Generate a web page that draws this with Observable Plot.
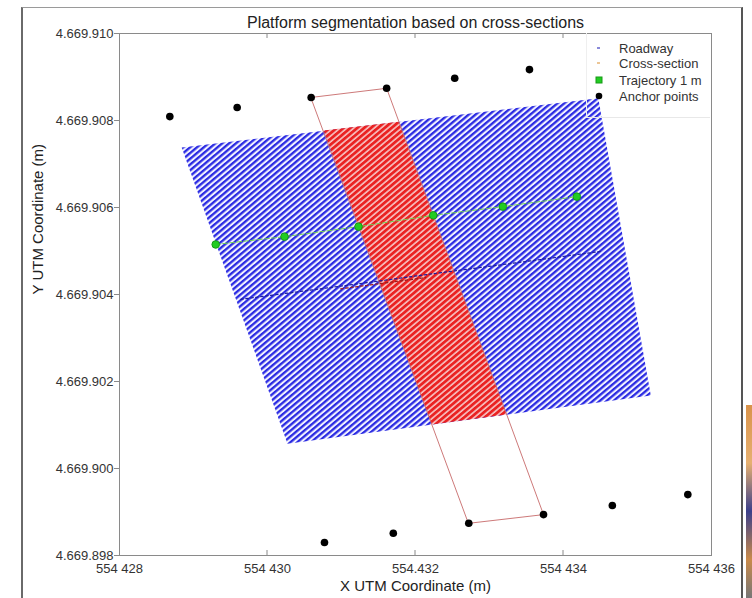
<!DOCTYPE html>
<html><head><meta charset="utf-8">
<script src="https://cdn.jsdelivr.net/npm/d3@7"></script>
<script src="https://cdn.jsdelivr.net/npm/@observablehq/plot@0.6"></script>
<style>
body{margin:0;background:#fff;font-family:"Liberation Sans",Arial,sans-serif;}
#wrap{position:relative;width:752px;height:598px;overflow:hidden;background:#fff;}
#border{position:absolute;left:21px;top:7px;width:722px;height:600px;border-left:2px solid #6a6a6a;border-top:1px solid #9a9a9a;border-right:2px solid #555;box-sizing:border-box;}
#frag{position:absolute;left:746px;top:405px;width:6px;height:193px;background:linear-gradient(180deg,#d9934a 0%,#e6b070 30%,#3b3f8a 55%,#c98a4a 80%,#777 100%);}
#legend{position:absolute;left:586px;top:33px;width:124px;height:85px;border-left:1px solid #efefef;border-bottom:1px solid #e8e8e8;box-sizing:border-box;background:transparent;}
</style></head><body><div id="wrap"><div id="border"></div><div id="frag"></div></div>
<script>
// ---- axis ticks ----
const xTicks = [554428, 554430, 554432, 554434, 554436];
const xTickLabels = ["554 428", "554 430", "554.432", "554 434", "554 436"];
const yTicks = [4669898, 4669900, 4669902, 4669904, 4669906, 4669908, 4669910];
const yTickLabels = ["4.669.898", "4.669.900", "4.669.902", "4.669.904", "4.669.906", "4.669.908", "4.669.910"];

// ---- texts ----
const titleText = "Platform segmentation based on cross-sections";
const xLabel = "X UTM Coordinate (m)";
const yLabel = "Y UTM Coordinate (m)";
const legendNames = ["Roadway", "Cross-section", "Trajectory 1 m", "Anchor points"];

// ---- roadway platform (hatched blue) corners ----
const roadwayX = [554428.84, 554434.47, 554435.18, 554430.27];
const roadwayY = [4669907.38, 4669908.51, 4669901.68, 4669900.57];

// ---- cross-section part of the platform (hatched red) ----
const crossX = [554430.76, 554431.77, 554433.23, 554432.22];
const crossY = [4669907.77, 4669907.97, 4669901.24, 4669901.01];

// ---- cross-section outline (through anchor points) ----
const sectionX = [554430.59, 554431.61, 554433.73, 554432.72];
const sectionY = [4669908.53, 4669908.74, 4669898.94, 4669898.74];

// ---- roadway axis (dotted) ----
const centerX = [554429.64, 554430.85, 554432.07, 554433.28, 554434.50];
const centerY = [4669903.89, 4669904.16, 4669904.44, 4669904.71, 4669904.99];
const crossCenterX = [554430.99, 554432.14];
const crossCenterY = [4669904.13, 4669904.39];

// ---- trajectory 1 m ----
const trajX = [554429.30, 554430.23, 554431.23, 554432.24, 554433.18, 554434.18];
const trajY = [4669905.15, 4669905.33, 4669905.56, 4669905.82, 4669906.02, 4669906.25];

// ---- anchor points ----
const anchorX = [554428.68, 554429.59, 554430.59, 554431.61, 554432.53, 554433.54,
                 554430.77, 554431.70, 554432.72, 554433.73, 554434.66, 554435.68];
const anchorY = [4669908.09, 4669908.30, 4669908.53, 4669908.74, 4669908.97, 4669909.17,
                 4669898.30, 4669898.51, 4669898.74, 4669898.94, 4669899.15, 4669899.40];

const zip = (xs, ys) => xs.map((x, i) => ({x, y: ys[i]}));
const roadway = zip(roadwayX, roadwayY);
const cross = zip(crossX, crossY);
const section = zip(sectionX, sectionY);
const center = zip(centerX, centerY);
const crossCenter = zip(crossCenterX, crossCenterY);
const traj = zip(trajX, trajY);
const anchors = zip(anchorX, anchorY);
const xFmt = (d) => xTickLabels[xTicks.indexOf(d)];
const yFmt = (d) => yTickLabels[yTicks.indexOf(d)];

const font = '"Liberation Sans", Arial, sans-serif';
const svg = Plot.plot({
  width: 752, height: 598,
  marginLeft: 119, marginRight: 41, marginTop: 33, marginBottom: 43,
  x: {domain: [xTicks[0], xTicks[xTicks.length - 1]]},
  y: {domain: [yTicks[0], yTicks[yTicks.length - 1]]},
  style: {fontFamily: font, fontSize: "13px", color: "#333", background: "transparent"},
  marks: [
    Plot.line(roadway, {x: "x", y: "y", curve: "linear-closed", fill: "url(#hatchBlue)", stroke: "none"}),
    Plot.line(cross, {x: "x", y: "y", curve: "linear-closed", fill: "url(#hatchRed)", stroke: "none"}),
    Plot.line(section, {x: "x", y: "y", curve: "linear-closed", stroke: "#c76a6a", strokeWidth: 0.9}),
    Plot.line(center, {x: "x", y: "y", stroke: "#1c1c9a", strokeWidth: 1.2, strokeDasharray: "2.5,2.5"}),
    Plot.line(crossCenter, {x: "x", y: "y", stroke: "#9a1c1c", strokeWidth: 1.2, strokeDasharray: "2.5,2.5"}),
    Plot.line(traj, {x: "x", y: "y", stroke: "#70d050", strokeWidth: 1, strokeDasharray: "5,2"}),
    Plot.dot(traj, {x: "x", y: "y", r: 3.8, fill: "#22cc22", stroke: "#179a17", strokeWidth: 1}),
    Plot.dot(anchors, {x: "x", y: "y", r: 3.8, fill: "#000", stroke: "none"}),
    Plot.frame({stroke: "#8a8a8a"}),
    Plot.axisX({anchor: "bottom", ticks: xTicks, tickFormat: xFmt, tickSize: 0, tickPadding: 8, label: null, fontSize: 13}),
    Plot.axisY({anchor: "left", ticks: yTicks, tickFormat: yFmt, tickSize: 5, tickPadding: 1, label: null, fontSize: 13, stroke: "#8a8a8a"}),
    Plot.text([titleText], {text: d => d, frameAnchor: "top", dy: -17, fontSize: 16, fill: "#222"}),
    Plot.text([xLabel], {text: d => d, frameAnchor: "bottom", dy: 35, fontSize: 15, fill: "#222"}),
    Plot.text([yLabel], {text: d => d, frameAnchor: "left", dx: -81, rotate: -90, fontSize: 15, fill: "#222"})
  ]
});

// hatch patterns
const defs = document.createElementNS("http://www.w3.org/2000/svg", "defs");
defs.innerHTML =
  '<pattern id="hatchBlue" patternUnits="userSpaceOnUse" width="10" height="4.4" patternTransform="rotate(-40)">' +
  '<rect width="10" height="4.4" fill="#f2f2ff"/><rect width="10" height="2.3" fill="#2a2ae2"/></pattern>' +
  '<pattern id="hatchRed" patternUnits="userSpaceOnUse" width="10" height="4.4" patternTransform="rotate(-40)">' +
  '<rect width="10" height="4.4" fill="#f7c4c4"/><rect width="10" height="2.8" fill="#ea2222"/></pattern>';
svg.insertBefore(defs, svg.firstChild);

// inward x ticks on bottom and top frame edges (positions from the x scale)
const xs = svg.scale("x");
const g = document.createElementNS("http://www.w3.org/2000/svg", "g");
g.setAttribute("stroke", "#8a8a8a");
for (const t of xTicks.slice(1, -1)) {
  const px = xs.apply(t);
  for (const [a, b] of [[555, 550], [33, 38]]) {
    const l = document.createElementNS("http://www.w3.org/2000/svg", "line");
    l.setAttribute("x1", px); l.setAttribute("x2", px);
    l.setAttribute("y1", a); l.setAttribute("y2", b);
    g.appendChild(l);
  }
}
svg.appendChild(g);
svg.style.position = "absolute";
svg.style.left = "0"; svg.style.top = "0";
const wrap = document.getElementById("wrap");
wrap.appendChild(svg);

// legend
const leg = document.createElement("div");
leg.id = "legend";
const ls = d3.create("svg").attr("width", 124).attr("height", 85).style("position", "absolute").style("left", "-1px").style("top", "0");
const rows = [15, 30, 47, 63];
ls.append("line").attr("x1", 11).attr("x2", 14).attr("y1", rows[0]).attr("y2", rows[0]).attr("stroke", "#3a3ac0").attr("stroke-width", 1.2);
ls.append("line").attr("x1", 11).attr("x2", 14).attr("y1", rows[1]).attr("y2", rows[1]).attr("stroke", "#e0a050").attr("stroke-width", 1.2);
ls.append("rect").attr("x", 10).attr("y", rows[2] - 3).attr("width", 6).attr("height", 6).attr("fill", "#22cc22").attr("stroke", "#179a17");
ls.append("circle").attr("cx", 13).attr("cy", rows[3]).attr("r", 3.3).attr("fill", "#000");
legendNames.forEach((n, i) => {
  ls.append("text").attr("x", 33).attr("y", rows[i]).attr("dy", "0.36em")
    .attr("font-family", font).attr("font-size", 13).attr("fill", "#333").text(n);
});
leg.appendChild(ls.node());
wrap.appendChild(leg);
</script></body></html>
